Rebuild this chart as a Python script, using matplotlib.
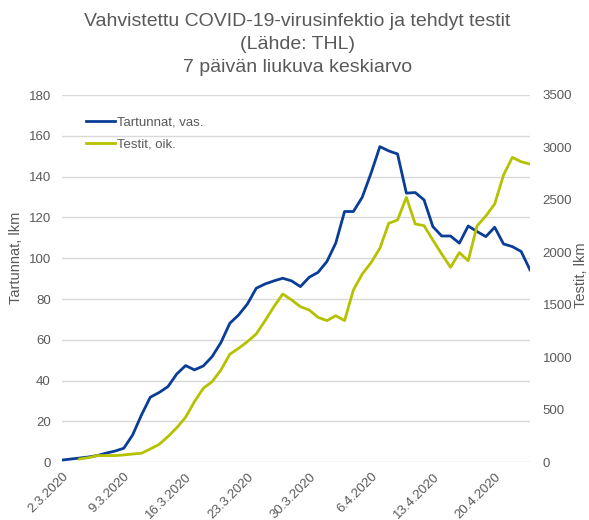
import datetime as dt
import matplotlib
matplotlib.use("Agg")
import matplotlib.pyplot as plt

plt.rcParams['font.family'] = ['Liberation Sans', 'DejaVu Sans']

start = dt.date(2020, 3, 2)

# 7 päivän liukuva keskiarvo, tartunnat 2.3.-24.4.
tartunnat = [1.1, 1.6, 2.1, 2.6, 3.3, 4.5, 5.5, 6.9, 13.4, 23.2,
             31.9, 34.2, 37.1, 43.3, 47.4, 45.3, 47.2, 51.8, 58.7, 68.1,
             72.2, 77.6, 85.3, 87.4, 88.9, 90.2, 88.9, 86.1, 90.7, 93.1,
             98.4, 107.4, 122.9, 122.9, 129.9, 141.7, 154.7, 152.6, 151.1, 131.9,
             132.2, 128.6, 115.5, 110.9, 110.9, 107.4, 115.8, 113.1, 110.6, 115.2,
             107.0, 105.7, 103.3, 94.3]
# testit 4.3.-24.4.
testit = [32, 44, 64, 64, 64, 70, 79, 86, 127, 171,
          245, 330, 429, 578, 705, 768, 880, 1029, 1086, 1150,
          1223, 1350, 1483, 1604, 1547, 1483, 1451, 1381, 1350, 1397,
          1350, 1642, 1794, 1902, 2039, 2277, 2309, 2525, 2271, 2255,
          2118, 1985, 1858, 1998, 1921, 2252, 2347, 2461, 2737, 2906,
          2864, 2842]

otsikko = ['Vahvistettu COVID-19-virusinfektio ja tehdyt testit',
           '(Lähde: THL)',
           '7 päivän liukuva keskiarvo']

paivat = [start + dt.timedelta(days=i) for i in range(len(tartunnat))]
testipaivat = paivat[len(tartunnat) - len(testit):]

grey = '#595959'
blue = '#0a3d96'
green = '#b5c200'

W, H = 589, 520
fig = plt.figure(figsize=(W / 100, H / 100), dpi=100)
ax = fig.add_axes([62 / W, 1 - 462.3 / H, 468 / W, 367.3 / H])
ax2 = ax.twinx()

l1, = ax.plot(paivat, tartunnat, color=blue, lw=2.0, label='Tartunnat, vas.')
l2, = ax2.plot(testipaivat, testit, color=green, lw=2.0, label='Testit, oik.')

ax.set_ylim(0, 180)
ax.set_yticks(range(0, 181, 20))
ax2.set_ylim(0, 3500)
ax2.set_yticks(range(0, 3501, 500))
ax.set_xlim(paivat[0] - dt.timedelta(hours=12), paivat[-1] + dt.timedelta(hours=12))

ticks = paivat[::7]
ax.set_xticks(ticks)
ax.set_xticklabels([f'{d.day}.{d.month}.{d.year}' for d in ticks],
                   rotation=45, ha='right', rotation_mode='anchor')

ax.grid(axis='y', color='#d9d9d9', lw=1)
ax.set_axisbelow(True)
for a in (ax, ax2):
    for s in a.spines.values():
        s.set_visible(False)
    a.tick_params(length=0, colors=grey, labelsize=9.5)
ax.tick_params(axis='y', pad=8)
ax2.tick_params(axis='y', pad=9)
ax.tick_params(axis='x', pad=6)

fig.text(16 / W, 1 - 258 / H, 'Tartunnat, lkm', color=grey, fontsize=10.5,
         rotation=90, ha='center', va='center')
fig.text(581 / W, 1 - 275 / H, 'Testit, lkm', color=grey, fontsize=10.5,
         rotation=90, ha='center', va='center')

ax.legend(handles=[l1, l2], loc='upper left', bbox_to_anchor=(0.025, 0.975),
          frameon=False, fontsize=9.5, labelcolor=grey, handlelength=2.2,
          handletextpad=0.2, labelspacing=0.75)

for rivi, y in zip(otsikko, [26, 49, 72]):
    fig.text(0.505, 1 - y / H, rivi, color=grey, fontsize=14,
             ha='center', va='baseline')

fig.savefig('out.png', dpi=100)
